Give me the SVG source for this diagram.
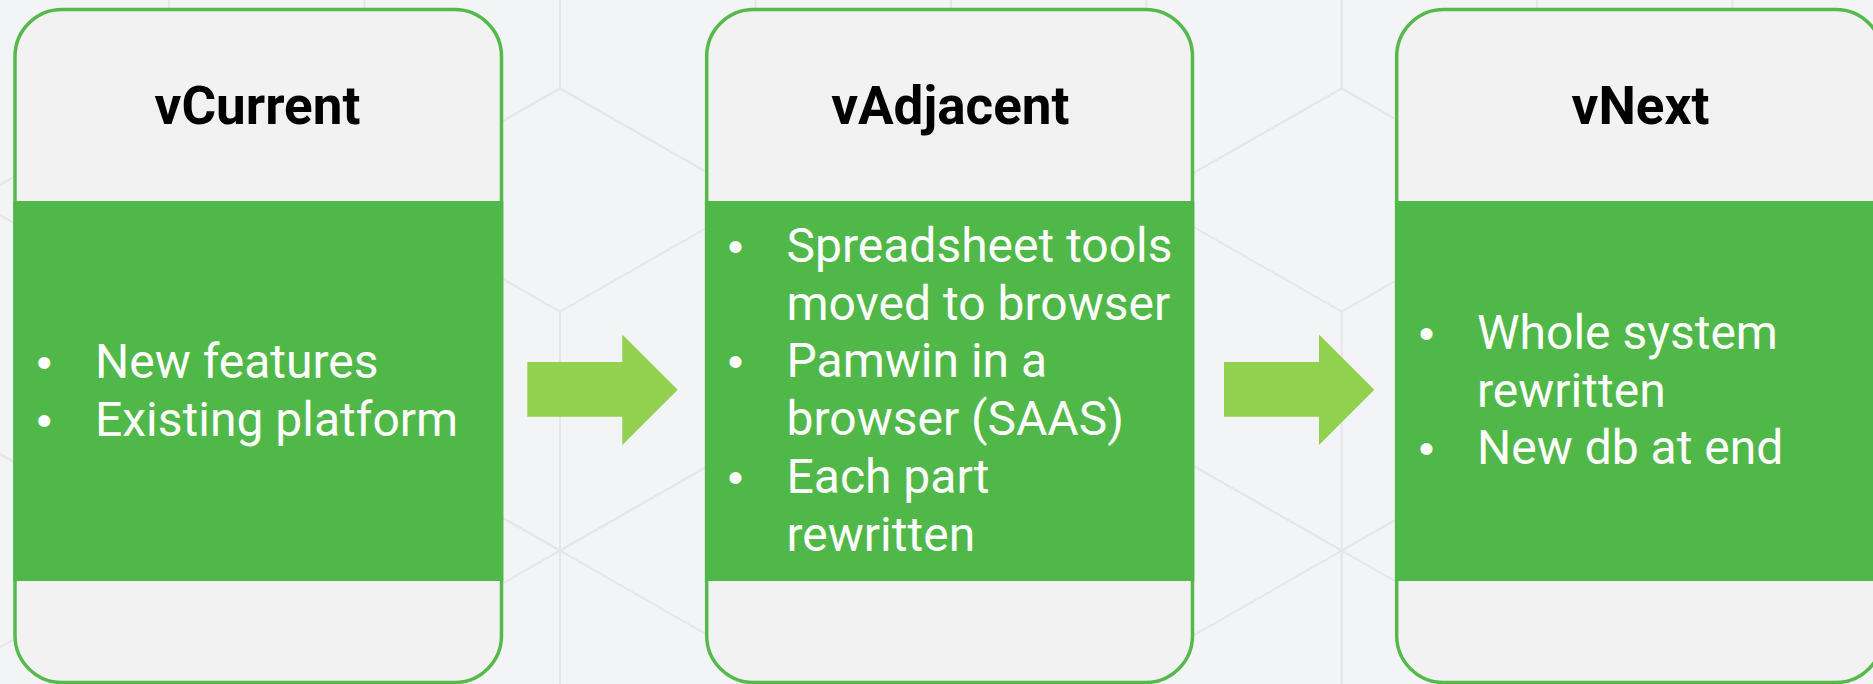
<svg xmlns="http://www.w3.org/2000/svg" xmlns:xlink="http://www.w3.org/1999/xlink" width="1873" height="684" viewBox="0 0 1873 684">
  <style>
    .bg { fill: #F3F4F6; }
    .grid { fill: none; stroke: #E5E6E9; stroke-width: 2; }
    .box { fill: #F2F2F2; stroke: #56B94C; stroke-width: 3.5; }
    .band { fill: #50B848; }
    .title { font-family: Roboto, "Liberation Sans", sans-serif; font-weight: 700; font-size: 53px; fill: #000000; text-anchor: middle; }
    .item { font-family: Roboto, "Liberation Sans", sans-serif; font-size: 48px; fill: #FFFFFF; }
    .bullet { font-family: "Liberation Sans", Arial, sans-serif; font-size: 44px; fill: #FFFFFF; text-anchor: middle; }
    .arrow { fill: #92D050; }
  </style>
  <defs>
    <path id="hex" d="M0,-223.4 L195.4,-111.7 L195.4,127.3 L0,238.8 L-195.4,127.3 L-195.4,-111.7 Z M-195.4,-111.7 L0,0 L195.4,-111.7 M0,0 L0,238.8"/>
  </defs>

  <rect class="bg" x="0" y="0" width="1873" height="684"/>

  <g id="background-grid" class="grid">
    <use xlink:href="#hex" href="#hex" x="-26.3" y="-39"/>
    <use xlink:href="#hex" href="#hex" x="364.6" y="-39"/>
    <use xlink:href="#hex" href="#hex" x="755.4" y="-39"/>
    <use xlink:href="#hex" href="#hex" x="1146.3" y="-39"/>
    <use xlink:href="#hex" href="#hex" x="1537.1" y="-39"/>
    <use xlink:href="#hex" href="#hex" x="1928" y="-39"/>
    <use xlink:href="#hex" href="#hex" x="169.15" y="311.7"/>
    <use xlink:href="#hex" href="#hex" x="560" y="311.7"/>
    <use xlink:href="#hex" href="#hex" x="950.85" y="311.7"/>
    <use xlink:href="#hex" href="#hex" x="1341.7" y="311.7"/>
    <use xlink:href="#hex" href="#hex" x="1732.55" y="311.7"/>
    <use xlink:href="#hex" href="#hex" x="-26.3" y="662.4"/>
    <use xlink:href="#hex" href="#hex" x="364.6" y="662.4"/>
    <use xlink:href="#hex" href="#hex" x="755.4" y="662.4"/>
    <use xlink:href="#hex" href="#hex" x="1146.3" y="662.4"/>
    <use xlink:href="#hex" href="#hex" x="1537.1" y="662.4"/>
    <use xlink:href="#hex" href="#hex" x="1928" y="662.4"/>
  </g>

  <g id="connectors">
    <polygon class="arrow" points="527.3,362 622.3,362 622.3,334.6 677.7,389.8 622.3,445 622.3,416.7 527.3,416.7"/>
    <polygon class="arrow" points="1224,362 1319,362 1319,334.6 1374.3,389.8 1319,445 1319,416.7 1224,416.7"/>
  </g>

  <g id="vcurrent">
    <rect class="box" x="15" y="9.5" width="486.5" height="673" rx="47" ry="47"/>
    <rect class="band" x="13.2" y="201" width="490.1" height="380"/>
    <text class="title" x="257.5" y="124.3">vCurrent</text>
    <text class="bullet" x="44.3" y="378">•</text>
    <text class="item" x="95" y="378">New features</text>
    <text class="bullet" x="44.3" y="436">•</text>
    <text class="item" x="95" y="436">Existing platform</text>
  </g>

  <g id="vadjacent">
    <rect class="box" x="706.7" y="9.5" width="485.8" height="673" rx="47" ry="47"/>
    <rect class="band" x="704.9" y="201" width="489.4" height="380"/>
    <text class="title" x="950.3" y="124.3">vAdjacent</text>
    <text class="bullet" x="735.5" y="262">•</text>
    <text class="item" x="786.5" y="262">Spreadsheet tools</text>
    <text class="item" x="786.5" y="319.7">moved to browser</text>
    <text class="bullet" x="735.5" y="377.4">•</text>
    <text class="item" x="786.5" y="377.4">Pamwin in a</text>
    <text class="item" x="786.5" y="435.1">browser (SAAS)</text>
    <text class="bullet" x="735.5" y="492.8">•</text>
    <text class="item" x="786.5" y="492.8">Each part</text>
    <text class="item" x="786.5" y="550.5">rewritten</text>
  </g>

  <g id="vnext">
    <rect class="box" x="1396.7" y="9.5" width="486" height="673" rx="47" ry="47"/>
    <rect class="band" x="1394.9" y="201" width="489.6" height="380"/>
    <text class="title" x="1640.5" y="124.3">vNext</text>
    <text class="bullet" x="1426.5" y="349">•</text>
    <text class="item" x="1477" y="349">Whole system</text>
    <text class="item" x="1477" y="406.7">rewritten</text>
    <text class="bullet" x="1426.5" y="464.4">•</text>
    <text class="item" x="1477" y="464.4">New db at end</text>
  </g>
</svg>
